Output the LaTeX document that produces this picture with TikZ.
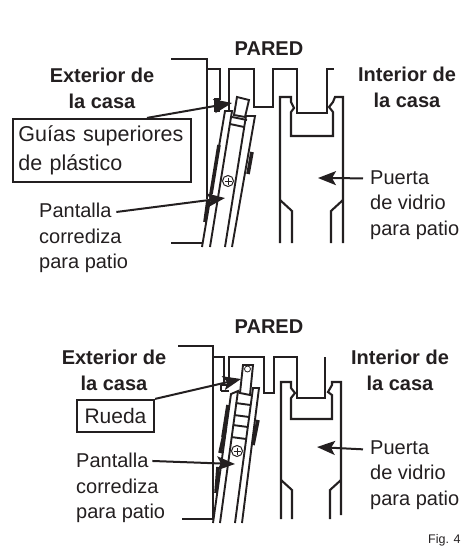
\documentclass[tikz,border=0pt]{standalone}
\usepackage{fontspec}
\setmainfont{Liberation Sans}
\usetikzlibrary{arrows.meta}
\definecolor{ink}{RGB}{35,31,32}
\tikzset{
  wall/.style={ink,line width=2.1pt,line join=miter},
  rail/.style={ink,line width=1.9pt},
  pad/.style={ink,line width=3.6pt},
  pointer/.style={ink,line width=2pt,-{Stealth[length=18pt,width=14pt,inset=4pt]}},
  heading/.style={text=ink,align=center,font=\fontsize{20}{26}\bfseries\selectfont,inner sep=0pt},
  caption/.style={text=ink,align=left,anchor=west,font=\fontsize{20}{25.5}\selectfont,inner sep=0pt},
  tag/.style={draw=ink,line width=2.2pt,text=ink,font=\fontsize{21.5}{29}\selectfont,align=left,inner sep=0pt}
}
\begin{document}
\begin{tikzpicture}[x=1pt,y=-1pt]
  \useasboundingbox (0,0) rectangle (462,550);
  % upper door
  \draw[wall] (171,59) -- (207,59) -- (207,199);
  \draw[wall] (171,243) -- (203,243);
  \draw[wall] (207,69) -- (220,69) -- (220,100);
  \draw[wall] (229,110) -- (229,69) -- (254,69) -- (254,107) -- (273,107) -- (273,69) -- (297,69) -- (297,113) -- (327,113) -- (327,69) -- (334,69);
  \draw[wall] (280,243) -- (280,97) -- (291,97) -- (291,102) -- (294,108) -- (291,112) -- (291,136) -- (333,136) -- (333,112) -- (329,107) -- (333,102) -- (335,97) -- (343,97) -- (343,243);
  \draw[wall] (280,200) -- (292,211) -- (292,243);
  \draw[wall] (343,200) -- (331,211) -- (331,243);
  \fill[ink] (214,98) rectangle (220,112);
  % upper screen
  \draw[rail] (202,247) -- (225,111) -- (232,111) -- (210,247);
  \draw[rail] (225,247) -- (246,116) -- (255,116) -- (232,247);
  \draw[rail] (232,117) -- (247,120) (230,124) -- (244,127);
  \draw[rail,fill=white] (237,97) -- (249,100) -- (245,117) -- (234,115) -- cycle;
  \draw[pad] (219,145) -- (211,194);
  \draw[pad] (208,200) -- (205,222);
  \draw[pad] (252,152) -- (248,174);
  \draw[ink,line width=1pt] (228,181) circle (5.5);
  \draw[ink,line width=.8pt] (224.5,181) -- (231.5,181) (228,177.5) -- (228,184.5);
  \node[heading] (pared1) at (269,49) {PARED};
  \node[heading] (exterior1) at (102,88) {Exterior de\\la casa};
  \node[heading] (interior1) at (407,87) {Interior de\\la casa};
  \node[tag,minimum width=178pt,minimum height=63pt,text width=167pt] (guias) at (102,150.5) {Guías superiores\\de plástico};
  \node[caption] (pantalla1) at (39,238) {Pantalla\\corrediza\\para patio};
  \node[caption] (puerta1) at (370,205) {Puerta\\de vidrio\\para patio};
  \coordinate (guiatip) at (232,103);
  \coordinate (screen1) at (225,198);
  \coordinate (door1) at (318,178);
  \draw[pointer] ([xshift=45pt]guias.north) -- (guiatip);
  \draw[pointer] ([xshift=-12pt,yshift=-9pt]pantalla1.north east) -- (screen1);
  \draw[pointer] ([xshift=-7pt,yshift=-8pt]puerta1.north west) -- (door1);
  % lower door
  \draw[wall] (178,346) -- (213,346) -- (213,519) -- (182,519);
  \draw[wall] (213,357) -- (224,357) -- (224,385);
  \draw[wall] (229,385) -- (229,357) -- (264,357) -- (264,393) -- (274,393) -- (274,357) -- (297,357) -- (297,398) -- (325,398) -- (325,357);
  \draw[wall] (221,385) -- (229,385) (221,391) -- (229,391) (221,385) -- (221,391);
  \draw[wall] (281,519) -- (281,382) -- (291,382) -- (291,388) -- (295,393) -- (291,398) -- (291,419) -- (332,419) -- (332,395) -- (328,392) -- (332,385) -- (332,382) -- (341,382) -- (341,515);
  \draw[wall] (281,480) -- (292,490) -- (292,519);
  \draw[wall] (341,480) -- (330,490) -- (330,519);
  % lower screen
  \draw[rail] (213,523) -- (231,394) -- (238,391) -- (220,523);
  \draw[rail] (235,523) -- (253,388) -- (259,388) -- (242,523);
  \foreach \ry in {403,415,425,437} \draw[rail] ({236-(\ry-400)*.13},\ry) -- ({251-(\ry-400)*.13},{\ry+2});
  \draw[rail,fill=white] (243,365) -- (253,365) -- (250,395) -- (240,393) -- cycle;
  \draw[ink,line width=.8pt] (247.5,369) circle (3);
  \draw[pad] (228,405) -- (223,437);
  \draw[pad] (225,430) -- (220,453);
  \draw[pad] (218,467) -- (216,493);
  \draw[pad] (258,420) -- (253,445);
  \draw[ink,line width=1pt] (237,451) circle (5.5);
  \draw[ink,line width=.8pt] (233.5,451) -- (240.5,451) (237,447.5) -- (237,454.5);
  \node[heading] (pared2) at (269,327) {PARED};
  \node[heading] (exterior2) at (114,370) {Exterior de\\la casa};
  \node[heading] (interior2) at (400,370) {Interior de\\la casa};
  \node[tag,minimum width=77pt,minimum height=32pt,align=center,font=\fontsize{21}{26}\selectfont] (rueda) at (115.5,416) {Rueda};
  \node[caption] (pantalla2) at (76,488) {Pantalla\\corrediza\\para patio};
  \node[caption] (puerta2) at (370,475) {Puerta\\de vidrio\\para patio};
  \node[text=ink,anchor=west,inner sep=0pt,font=\fontsize{12.5}{14}\selectfont] (fig) at (428,540) {Fig. 4};
  \coordinate (ruedatip) at (241,379);
  \coordinate (screen2) at (235,464);
  \coordinate (door2) at (317,447);
  \draw[pointer] (rueda.north east) -- (ruedatip);
  \draw[pointer] ([xshift=-13pt,yshift=-8pt]pantalla2.north east) -- (screen2);
  \draw[pointer] ([xshift=-7pt,yshift=-9pt]puerta2.north west) -- (door2);
\end{tikzpicture}
\end{document}
